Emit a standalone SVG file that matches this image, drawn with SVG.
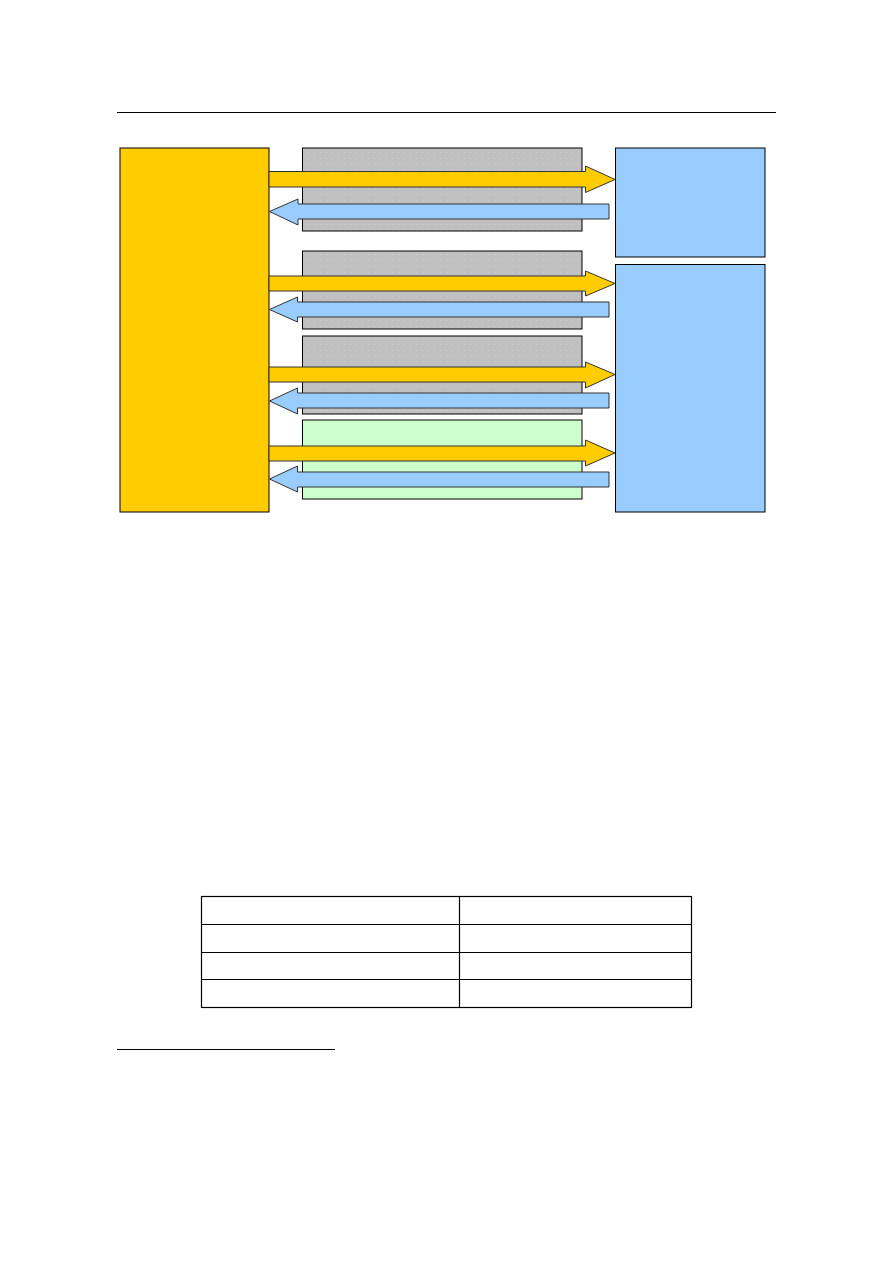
<svg xmlns="http://www.w3.org/2000/svg" width="893" height="1263" viewBox="0 0 893 1263">
<defs>
<pattern id="dots" width="6" height="6" patternUnits="userSpaceOnUse">
<rect width="6" height="6" fill="#c0c0c0"/>
<rect x="2" y="2" width="1" height="1" fill="#cfcfcf"/>
</pattern>
<style>
.box{stroke:#000;stroke-width:1}
.gray{fill:url(#dots)}
.orange{fill:#ffcc00}
.blue{fill:#99ccff}
.green{fill:#ccffcc}
.ar-o{fill:#ffcc00;stroke:#333;stroke-width:1;stroke-linejoin:miter}
.ar-b{fill:#99ccff;stroke:#333;stroke-width:1;stroke-linejoin:miter}
.rule{stroke:#000;stroke-width:1.2;fill:none}
.tbl{stroke:#000;stroke-width:1.2;fill:none}
</style>
</defs>
<rect width="893" height="1263" fill="#fff"/>
<line class="rule" x1="117" y1="112.5" x2="776" y2="112.5"/>

<g id="left-block"><rect class="box orange" x="120" y="148" width="149" height="364"/></g>
<g id="channel-1"><rect class="box gray" x="302.5" y="148" width="279.5" height="83"/></g>
<g id="channel-2"><rect class="box gray" x="302.5" y="251" width="279.5" height="78"/></g>
<g id="channel-3"><rect class="box gray" x="302.5" y="336" width="279.5" height="78"/></g>
<g id="channel-4"><rect class="box green" x="302.5" y="420" width="279.5" height="79"/></g>
<g id="right-block-1"><rect class="box blue" x="615.5" y="148" width="149.5" height="109"/></g>
<g id="right-block-2"><rect class="box blue" x="615.5" y="264.5" width="149.5" height="247.5"/></g>

<g id="connectors">
<polygon class="ar-o" points="269,171.5 585.5,171.5 585.5,166 615,179.5 585.5,192.5 585.5,187 269,187"/>
<polygon class="ar-b" points="609,204 298,204 298,199 269.5,211.5 298,225 298,219 609,219"/>
<polygon class="ar-o" points="269,276 585.5,276 585.5,271 615,283.5 585.5,296 585.5,291 269,291"/>
<polygon class="ar-b" points="609,302 297.5,302 297.5,297 269.5,309.5 297.5,322 297.5,317 609,317"/>
<polygon class="ar-o" points="269,367 585.5,367 585.5,362 615,374.5 585.5,388 585.5,382 269,382"/>
<polygon class="ar-b" points="609,393 297.5,393 297.5,388 269.5,401 297.5,414 297.5,408 609,408"/>
<polygon class="ar-o" points="269,446 585.5,446 585.5,440 615,453 585.5,466 585.5,461 269,461"/>
<polygon class="ar-b" points="609,472 297.5,472 297.5,466 269.5,479 297.5,492 297.5,487 609,487"/>
</g>

<g id="table">
<rect class="tbl" x="201.5" y="896.5" width="490" height="111"/>
<line class="tbl" x1="459.5" y1="896.5" x2="459.5" y2="1007.5"/>
<line class="tbl" x1="201.5" y1="924.5" x2="691.5" y2="924.5"/>
<line class="tbl" x1="201.5" y1="952.5" x2="691.5" y2="952.5"/>
<line class="tbl" x1="201.5" y1="979.5" x2="691.5" y2="979.5"/>
</g>

<line class="rule" x1="117" y1="1049.5" x2="335" y2="1049.5"/>
</svg>
